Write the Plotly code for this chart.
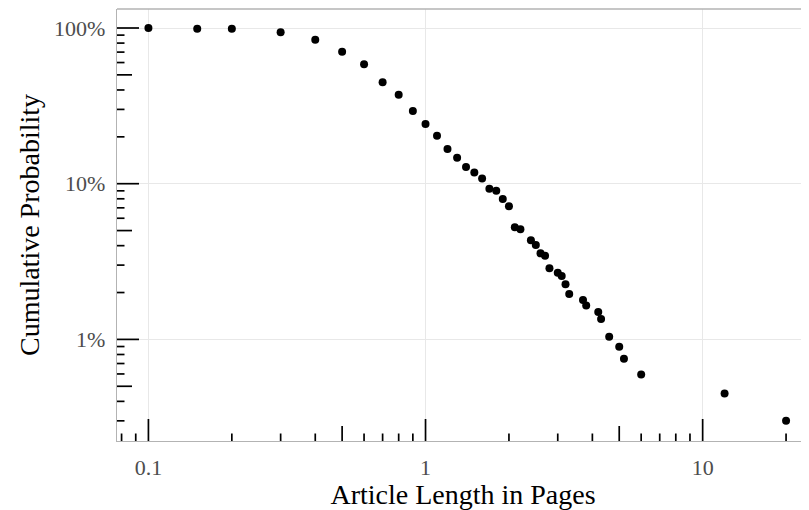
import numpy as np
import plotly.graph_objects as go

# Data
pages = [0.1, 0.15, 0.2, 0.3, 0.4, 0.5, 0.6, 0.7, 0.8, 0.9,
         1.0, 1.1, 1.2, 1.3, 1.4, 1.5, 1.6, 1.7, 1.8, 1.9,
         2.0, 2.1, 2.2, 2.4, 2.5, 2.6, 2.7, 2.8, 3.0, 3.1,
         3.2, 3.3, 3.7, 3.8, 4.2, 4.3, 4.6, 5.0, 5.2, 6.0,
         12.0, 20.0]
cum_prob = [1.0, 0.99, 0.99, 0.938, 0.841, 0.704, 0.585, 0.448, 0.373, 0.293,
            0.242, 0.203, 0.167, 0.147, 0.128, 0.118, 0.108, 0.0929, 0.0902, 0.0797,
            0.0716, 0.0525, 0.0509, 0.0433, 0.0404, 0.0357, 0.0345, 0.0286, 0.0268, 0.0255,
            0.0226, 0.0196, 0.0179, 0.0165, 0.015, 0.0135, 0.0104, 0.00897, 0.0075, 0.00596,
            0.0045, 0.003]

x_tickvals = [0.1, 1, 10]
x_ticktext = ["0.1", "1", "10"]
y_tickvals = [0.01, 0.1, 1]
y_ticktext = ["1%", "10%", "100%"]

x_range_log = [-1.1134, 1.3838]
y_range_log = [-2.6525, 0.122]

FONT = "Liberation Serif, Times New Roman, serif"
BORDER = "#b3b3b3"
GRID = "#e8e8e8"

fig = go.Figure()
fig.add_trace(go.Scatter(
    x=pages, y=cum_prob, mode="markers",
    marker=dict(color="black", size=8, line=dict(width=0)),
    hoverinfo="x+y", showlegend=False,
))

# log ticks (annotation_logticks style): short / mid / long
def tick_len(m):
    if m == 1:
        return 22
    if m == 5:
        return 15
    return 7.5

shapes = []
xmin, xmax = 10 ** x_range_log[0], 10 ** x_range_log[1]
for e in range(-2, 3):
    for m in range(1, 10):
        v = m * 10.0 ** e
        if xmin <= v <= xmax:
            shapes.append(dict(type="line", xref="x", yref="paper",
                               ysizemode="pixel", yanchor=0,
                               x0=v, x1=v, y0=0, y1=tick_len(m),
                               line=dict(color="black", width=1.7), layer="above"))
ymin, ymax = 10 ** y_range_log[0], 10 ** y_range_log[1]
for e in range(-4, 1):
    for m in range(1, 10):
        v = m * 10.0 ** e
        if ymin <= v <= ymax:
            shapes.append(dict(type="line", xref="paper", yref="y",
                               xsizemode="pixel", xanchor=0,
                               y0=v, y1=v, x0=0, x1=tick_len(m),
                               line=dict(color="black", width=1.7), layer="above"))
# top panel border
shapes.append(dict(type="line", xref="paper", yref="paper", x0=0, x1=1, y0=1, y1=1,
                   line=dict(color=BORDER, width=1.3)))

fig.update_layout(
    width=801, height=502,
    margin=dict(l=109, r=0, t=1, b=69, pad=0),
    paper_bgcolor="white", plot_bgcolor="white",
    font=dict(family=FONT, color="black"),
    shapes=shapes,
    xaxis=dict(
        type="log", range=x_range_log,
        tickvals=x_tickvals, ticktext=x_ticktext,
        showgrid=True, gridcolor=GRID, gridwidth=1,
        showline=True, linecolor=BORDER, linewidth=1.3,
        ticks="", zeroline=False,
        tickfont=dict(family=FONT, size=22, color="#4d4d4d"),
        ticklabelstandoff=6,
        title=dict(text="Article Length in Pages", font=dict(family=FONT, size=28, color="black"),
                   standoff=8),
    ),
    yaxis=dict(
        type="log", range=y_range_log,
        tickvals=y_tickvals, ticktext=y_ticktext,
        showgrid=True, gridcolor=GRID, gridwidth=1,
        showline=True, linecolor=BORDER, linewidth=1.3,
        ticks="", zeroline=False,
        tickfont=dict(family=FONT, size=22, color="#4d4d4d"),
        ticklabelstandoff=6,
        title=dict(text="Cumulative Probability", font=dict(family=FONT, size=28, color="black"),
                   standoff=6),
    ),
)

fig.write_html("out.html")
